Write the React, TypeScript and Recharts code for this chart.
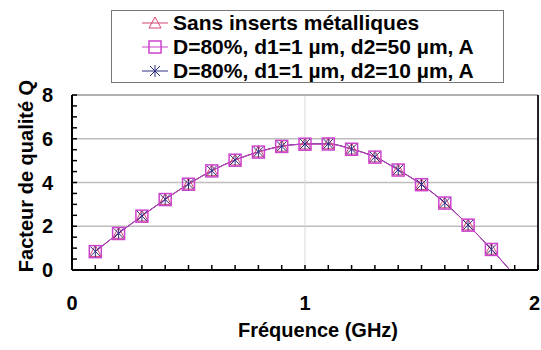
import React from 'react';
import { ComposedChart, Line, XAxis, YAxis, ReferenceLine, Legend } from 'recharts';

// Frequency (GHz); the last entry is the end of the fitted curve (no marker)
const freq = [0.1, 0.2, 0.3, 0.4, 0.5, 0.6, 0.7, 0.8, 0.9, 1.0, 1.1, 1.2, 1.3, 1.4, 1.5, 1.6, 1.7, 1.8, 1.9];
const sansInserts = [0.85, 1.68, 2.47, 3.23, 3.93, 4.54, 5.03, 5.4, 5.66, 5.76, 5.77, 5.53, 5.17, 4.58, 3.91, 3.07, 2.06, 0.95, -0.25];
const d2_50 = [0.84, 1.67, 2.46, 3.22, 3.92, 4.53, 5.02, 5.39, 5.65, 5.75, 5.76, 5.52, 5.16, 4.57, 3.9, 3.06, 2.05, 0.94, -0.26];
const d2_10 = [0.85, 1.68, 2.47, 3.23, 3.93, 4.54, 5.03, 5.4, 5.66, 5.76, 5.77, 5.53, 5.17, 4.58, 3.91, 3.07, 2.06, 0.95, -0.25];
const lastMarkerFreq = 1.8;

const xTicks = [0, 0.1, 0.2, 0.3, 0.4, 0.5, 0.6, 0.7, 0.8, 0.9, 1, 1.1, 1.2, 1.3, 1.4, 1.5, 1.6, 1.7, 1.8, 1.9, 2];
const xLabels = [0, 1, 2];
const yTicks = [0, 0.5, 1, 1.5, 2, 2.5, 3, 3.5, 4, 4.5, 5, 5.5, 6, 6.5, 7, 7.5, 8];
const yLabels = [0, 2, 4, 6, 8];
const yGrid = [2, 4, 6];

const seriesNames = ['Sans inserts métalliques', 'D=80%, d1=1 µm, d2=50 µm, A', 'D=80%, d1=1 µm, d2=10 µm, A'];

const data = freq.map((f, i) => ({ f, s1: sansInserts[i], s2: d2_50[i], s3: d2_10[i] }));

const FONT = '"Liberation Sans", Arial, sans-serif';
const C1 = '#d9466e';
const C2 = '#cc44cc';
const C3 = '#2e2e80';

const Triangle = ({ cx, cy, color }: any) => (
  <polygon points={`${cx},${cy - 6} ${cx + 6},${cy + 5} ${cx - 6},${cy + 5}`} fill="none" stroke={color} strokeWidth={1} />
);
const Square = ({ cx, cy, color }: any) => (
  <rect x={cx - 6} y={cy - 6} width={12} height={12} fill="none" stroke={color} strokeWidth={1.5} />
);
const Star = ({ cx, cy, color }: any) => (
  <g stroke={color} strokeWidth={1}>
    <line x1={cx} y1={cy - 6} x2={cx} y2={cy + 6} />
    <line x1={cx - 5} y1={cy - 5} x2={cx + 5} y2={cy + 5} />
    <line x1={cx - 5} y1={cy + 5} x2={cx + 5} y2={cy - 5} />
  </g>
);

const makeDot = (Shape: any, color: string) => (props: any) => {
  const { cx, cy, payload, index } = props;
  if (payload.f > lastMarkerFreq + 1e-9 || cx == null || cy == null) return <g key={`d${index}`} />;
  return <g key={`d${index}`}><Shape cx={cx} cy={cy} color={color} /></g>;
};

const XTick = (props: any) => {
  const { x, y, payload } = props;
  const v = payload.value;
  const isLabel = xLabels.some((l) => Math.abs(l - v) < 1e-9);
  const isLast = Math.abs(v - xLabels[xLabels.length - 1]) < 1e-9;
  return (
    <g>
      <line x1={x} y1={y} x2={x} y2={y - 5} stroke="#000" strokeWidth={1.5} />
      {isLabel && (
        <text
          x={isLast ? x + 2 : x}
          y={y + 40}
          textAnchor={isLast ? 'end' : 'middle'}
          fontFamily={FONT}
          fontWeight="bold"
          fontSize={20}
          fill="#000"
        >
          {v}
        </text>
      )}
    </g>
  );
};

const YTick = (props: any) => {
  const { x, y, payload } = props;
  const v = payload.value;
  const isLabel = yLabels.some((l) => Math.abs(l - v) < 1e-9);
  return (
    <g>
      <line x1={x} y1={y} x2={x + 5} y2={y} stroke="#000" strokeWidth={1.5} />
      {isLabel && (
        <text x={x - 19} y={y + 7} textAnchor="end" fontFamily={FONT} fontWeight="bold" fontSize={20} fill="#000">
          {v}
        </text>
      )}
    </g>
  );
};

const LegendContent = () => {
  const shapes = [Triangle, Square, Star];
  const colors = [C1, C2, C3];
  return (
    <svg width={394} height={74} style={{ display: 'block' }}>
      <rect x={0.5} y={0.5} width={392} height={72} fill="#fff" stroke="#777" strokeWidth={1} />
      {seriesNames.map((name, i) => {
        const cy = 13 + i * 24;
        const Shape = shapes[i];
        return (
          <g key={name}>
            <line x1={31} y1={cy} x2={57} y2={cy} stroke={colors[i]} strokeWidth={1} />
            <Shape cx={44} cy={cy} color={colors[i]} />
            <text x={62} y={cy + 7} fontFamily={FONT} fontWeight="bold" fontSize={21} fill="#000">
              {name}
            </text>
          </g>
        );
      })}
    </svg>
  );
};

export default function App() {
  return (
    <div style={{ position: 'absolute', left: 0, top: 0, width: 541, height: 350, overflow: 'hidden', background: '#fff' }}>
      <ComposedChart width={541} height={350} data={data} margin={{ top: 95, right: 3, bottom: 50, left: 12 }}>
        <XAxis
          dataKey="f"
          type="number"
          domain={[0, 2]}
          ticks={xTicks}
          interval={0}
          tickSize={0}
          tickMargin={0}
          tick={<XTick />}
          tickLine={false}
          axisLine={{ stroke: '#000', strokeWidth: 2 }}
          height={30}
          label={{
            content: () => (
              <text x={318} y={337} textAnchor="middle" fontFamily={FONT} fontWeight="bold" fontSize={20} fill="#000">
                Fréquence (GHz)
              </text>
            ),
          }}
        />
        <YAxis
          type="number"
          domain={[0, 8]}
          allowDataOverflow
          ticks={yTicks}
          interval={0}
          tickSize={0}
          tickMargin={0}
          tick={<YTick />}
          tickLine={false}
          axisLine={{ stroke: '#000', strokeWidth: 2 }}
          width={60}
          label={{
            content: () => (
              <text
                x={33}
                y={176}
                transform="rotate(-90 33 176)"
                textAnchor="middle"
                fontFamily={FONT}
                fontWeight="bold"
                fontSize={20}
                fill="#000"
              >
                Facteur de qualité Q
              </text>
            ),
          }}
        />
        {yGrid.map((v) => (
          <ReferenceLine key={`g${v}`} y={v} stroke="#bdbdbd" strokeWidth={1.5} />
        ))}
        <ReferenceLine x={1} stroke="#d9d9d9" strokeWidth={1} />
        <ReferenceLine y={8} stroke="#999" strokeWidth={1.5} />
        <ReferenceLine x={2} stroke="#222" strokeWidth={2} />
        <Line dataKey="s1" type="monotone" stroke={C1} strokeWidth={1} dot={makeDot(Triangle, C1)} isAnimationActive={false} />
        <Line dataKey="s3" type="monotone" stroke={C3} strokeWidth={1} dot={makeDot(Star, C3)} isAnimationActive={false} />
        <Line dataKey="s2" type="monotone" stroke={C2} strokeWidth={1} dot={makeDot(Square, C2)} isAnimationActive={false} />
        <Legend
          layout="vertical"
          align="center"
          verticalAlign="middle"
          content={<LegendContent />}
          wrapperStyle={{ left: 111, top: 10, width: 394, height: 74 }}
        />
      </ComposedChart>
    </div>
  );
}
